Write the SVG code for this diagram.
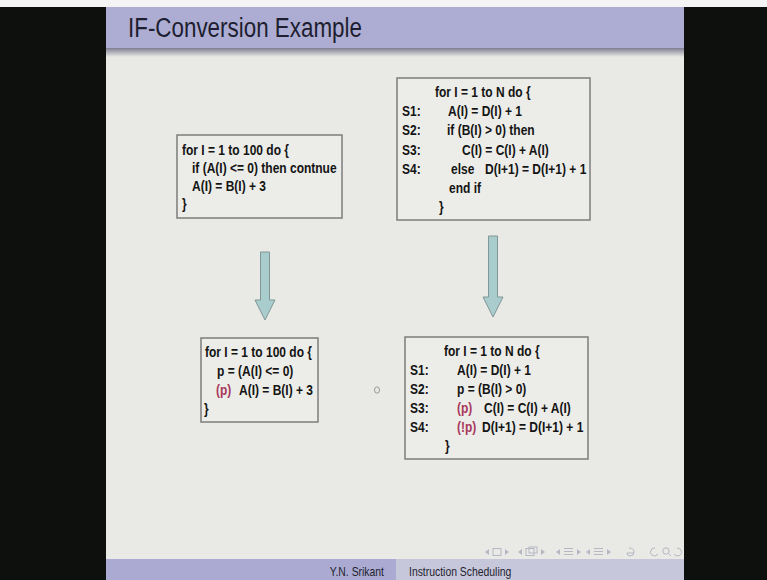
<svg xmlns="http://www.w3.org/2000/svg" width="767" height="580" viewBox="0 0 767 580">
  <defs>
    <linearGradient id="barShadow" x1="0" y1="0" x2="0" y2="1">
      <stop offset="0" stop-color="#7e7e92"/>
      <stop offset="1" stop-color="#e9eae6"/>
    </linearGradient>
    <style>
      .code{font-family:"Liberation Sans",Arial,Helvetica,sans-serif;font-size:15px;font-weight:bold;fill:#141414}
      .pred{fill:#a8385c}
      .box{fill:#ecede9;stroke:#7c7c7c;stroke-width:1.5}
      .arrow{fill:#a9cccc;stroke:#819696;stroke-width:1}
      .title{font-family:"Liberation Sans",Arial,Helvetica,sans-serif;font-size:28px;fill:#1e1e30}
      .foot{font-family:"Liberation Sans",Arial,Helvetica,sans-serif;font-size:13px;fill:#1e1e2e}
      .nav{fill:none;stroke:#b7b7c3;stroke-width:1}
      .navf{fill:#b7b7c3}
    </style>
  </defs>

  <!-- frame and slide background -->
  <rect x="0" y="0" width="767" height="580" fill="#0e100e"/>
  <rect x="0" y="0" width="767" height="7" fill="#f4f4f4"/>
  <rect x="106" y="7" width="578" height="552" fill="#e9eae6"/>

  <!-- title bar -->
  <g id="title">
    <rect x="106" y="7" width="578" height="41" fill="#adadd3"/>
    <rect x="106" y="48" width="578" height="9" fill="url(#barShadow)"/>
    <text class="title" transform="translate(128 37) scale(0.8 1)">IF-Conversion Example</text>
  </g>

  <!-- original loop with continue -->
  <g id="loop1">
    <rect class="box" x="177" y="135" width="165" height="83"/>
    <text class="code" transform="translate(182 155) scale(0.8 1)">for I = 1 to 100 do {</text>
    <text class="code" transform="translate(192 173) scale(0.8 1)">if (A(I) &lt;= 0) then contnue</text>
    <text class="code" transform="translate(192 191) scale(0.8 1)">A(I) = B(I) + 3</text>
    <text class="code" transform="translate(182 209) scale(0.8 1)">}</text>
  </g>

  <!-- original loop with if-then-else -->
  <g id="loop2">
    <rect class="box" x="397" y="78" width="193" height="142"/>
    <text class="code" transform="translate(435 97) scale(0.8 1)">for I = 1 to N do {</text>
    <text class="code" transform="translate(402 116) scale(0.8 1)">S1:</text>
    <text class="code" transform="translate(448 116) scale(0.8 1)">A(I) = D(I) + 1</text>
    <text class="code" transform="translate(402 135) scale(0.8 1)">S2:</text>
    <text class="code" transform="translate(447 135) scale(0.8 1)">if (B(I) &gt; 0) then</text>
    <text class="code" transform="translate(402 155) scale(0.8 1)">S3:</text>
    <text class="code" transform="translate(462 155) scale(0.8 1)">C(I) = C(I) + A(I)</text>
    <text class="code" transform="translate(402 174) scale(0.8 1)">S4:</text>
    <text class="code" transform="translate(451 174) scale(0.8 1)">else</text>
    <text class="code" transform="translate(485 174) scale(0.8 1)">D(I+1) = D(I+1) + 1</text>
    <text class="code" transform="translate(449 193) scale(0.8 1)">end if</text>
    <text class="code" transform="translate(439 212) scale(0.8 1)">}</text>
  </g>

  <!-- predicated version of loop1 -->
  <g id="loop1p">
    <rect class="box" x="201" y="338" width="117" height="84"/>
    <text class="code" transform="translate(205 357) scale(0.8 1)">for I = 1 to 100 do {</text>
    <text class="code" transform="translate(217 376) scale(0.8 1)">p = (A(I) &lt;= 0)</text>
    <text class="code pred" transform="translate(216 395) scale(0.8 1)">(p)</text>
    <text class="code" transform="translate(239 395) scale(0.8 1)">A(I) = B(I) + 3</text>
    <text class="code" transform="translate(204 414) scale(0.8 1)">}</text>
  </g>

  <!-- predicated version of loop2 -->
  <g id="loop2p">
    <rect class="box" x="405" y="337" width="183" height="122"/>
    <text class="code" transform="translate(444 356) scale(0.8 1)">for I = 1 to N do {</text>
    <text class="code" transform="translate(410 375) scale(0.8 1)">S1:</text>
    <text class="code" transform="translate(457 375) scale(0.8 1)">A(I) = D(I) + 1</text>
    <text class="code" transform="translate(410 394) scale(0.8 1)">S2:</text>
    <text class="code" transform="translate(457 394) scale(0.8 1)">p = (B(I) &gt; 0)</text>
    <text class="code" transform="translate(410 413) scale(0.8 1)">S3:</text>
    <text class="code pred" transform="translate(457 413) scale(0.8 1)">(p)</text>
    <text class="code" transform="translate(484 413) scale(0.8 1)">C(I) = C(I) + A(I)</text>
    <text class="code" transform="translate(410 432) scale(0.8 1)">S4:</text>
    <text class="code pred" transform="translate(457 432) scale(0.8 1)">(!p)</text>
    <text class="code" transform="translate(482 432) scale(0.8 1)">D(I+1) = D(I+1) + 1</text>
    <text class="code" transform="translate(445 451) scale(0.8 1)">}</text>
  </g>

  <!-- block arrows between original and converted loops -->
  <g id="connectors">
    <polygon class="arrow" points="260.5,252 269.5,252 269.5,300 275,300 265,320 255,300 260.5,300"/>
    <polygon class="arrow" points="488.5,236 497.5,236 497.5,297 503,297 493,317 483,297 488.5,297"/>
  </g>

  <!-- pointer mark -->
  <ellipse cx="377" cy="390" rx="2.5" ry="3.2" fill="none" stroke="#9a9a9a" stroke-width="1"/>

  <!-- navigation symbols -->
  <g id="nav">
    <polygon class="navf" points="489,549 485,552 489,555"/>
    <rect class="nav" x="493" y="548.5" width="8" height="7"/>
    <polygon class="navf" points="505,549 509,552 505,555"/>
    <polygon class="navf" points="522,549 518,552 522,555"/>
    <rect class="nav" x="526" y="548.5" width="8" height="7"/>
    <rect class="nav" x="529" y="547" width="8" height="6"/>
    <polygon class="navf" points="541,549 545,552 541,555"/>
    <polygon class="navf" points="560,549 556,552 560,555"/>
    <path class="nav" d="M564,548.5h9M564,551.5h9M564,554.5h9"/>
    <polygon class="navf" points="577,549 581,552 577,555"/>
    <polygon class="navf" points="590,549 586,552 590,555"/>
    <path class="nav" d="M594,548.5h9M594,551.5h9M594,554.5h9"/>
    <polygon class="navf" points="607,549 611,552 607,555"/>
    <path class="nav" d="M629,548 q5,0 5,4 q0,4 -4,4 q-3,0 -3,-3 h7"/>
    <path class="nav" d="M655,548 a4,4 0 1 0 3,6"/>
    <circle class="nav" cx="666" cy="551" r="3.2"/>
    <path class="nav" d="M668.5,553.5 l2.5,2.5"/>
    <path class="nav" d="M677,548 a4,4 0 1 1 -3,6"/>
  </g>

  <!-- footer bar -->
  <g id="footer">
    <rect x="106" y="559" width="290" height="21" fill="#aaaad2"/>
    <rect x="396" y="559" width="288" height="21" fill="#c7c7dc"/>
    <text class="foot" text-anchor="end" transform="translate(384 576) scale(0.8 1)">Y.N. Srikant</text>
    <text class="foot" transform="translate(409 576) scale(0.8 1)">Instruction Scheduling</text>
  </g>
</svg>
